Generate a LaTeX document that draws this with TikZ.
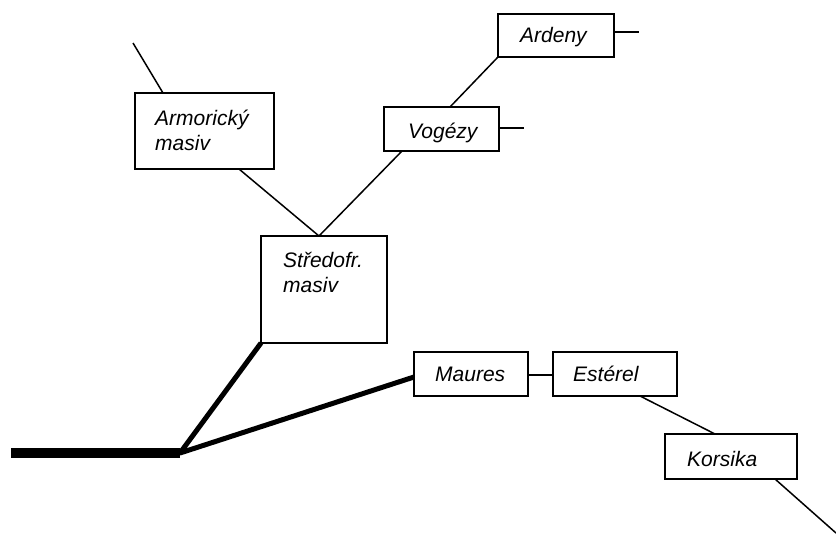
\documentclass[tikz,border=0pt]{standalone}
\usepackage{fontspec}
\setmainfont{Liberation Sans}
\begin{document}
\begin{tikzpicture}[x=1pt,y=-1pt,
  box/.style={draw=black,line width=1.5pt,fill=white,inner sep=0pt},
  lbl/.style={anchor=base west,inner sep=0pt,font=\fontsize{21}{25}\selectfont\itshape},
  thin/.style={line width=1.5pt},
  thick1/.style={line width=5pt},
  thick2/.style={line width=10pt}]
\useasboundingbox (0,0) rectangle (836,535);
% boxes
\node[box,minimum width=139pt,minimum height=76pt] (arm) at (204.5,131) {};
\node[box,minimum width=126pt,minimum height=107pt] (str) at (324,289.5) {};
\node[box,minimum width=115pt,minimum height=44pt] (vog) at (441.5,129) {};
\node[box,minimum width=116pt,minimum height=43pt] (ard) at (556,35.5) {};
\node[box,minimum width=114pt,minimum height=44pt] (mau) at (471,374) {};
\node[box,minimum width=124pt,minimum height=44pt] (est) at (615,374) {};
\node[box,minimum width=132pt,minimum height=45pt] (kor) at (731,456.5) {};
% texts
\node[lbl] (t1) at (155,125) {Armorický};
\node[lbl] (t2) at (155,150) {masiv};
\node[lbl] (t3) at (283,267) {Středofr.};
\node[lbl] (t4) at (283,292) {masiv};
\node[lbl] (t5) at (408,138) {Vogézy};
\node[lbl] (t6) at (520,43) {Ardeny};
\node[lbl] (t7) at (435,381) {Maures};
\node[lbl] (t8) at (573,381) {Estérel};
\node[lbl] (t9) at (687,466) {Korsika};
% connector points
\coordinate (armtopfree) at (133,43);
\coordinate (armtop) at (163,93);
\coordinate (armbot) at (239,169);
\coordinate (strtop) at (319,236);
\coordinate (vogbot) at (402,151);
\coordinate (vogtop) at (450,107);
\coordinate (ardbl) at (498,57);
\coordinate (ardr) at (614,32);
\coordinate (ardfree) at (639,32);
\coordinate (vogr) at (499,128);
\coordinate (vogfree) at (524,128);
\coordinate (hl) at (11,453);
\coordinate (hr) at (180,453);
\coordinate (strbl) at (261,343);
\coordinate (maul) at (414,377);
\coordinate (maur) at (528,375);
\coordinate (estl) at (553,375);
\coordinate (estbot) at (640,396);
\coordinate (kortop) at (715,434);
\coordinate (korbot) at (775,479);
\coordinate (korfree) at (836,533);
% connectors
\draw[thin] (armtopfree) -- (armtop);
\draw[thin] (armbot) -- (strtop);
\draw[thin] (vogbot) -- (strtop);
\draw[thin] (vogtop) -- (ardbl);
\draw[thin] (ardr) -- (ardfree);
\draw[thin] (vogr) -- (vogfree);
\draw[thin] (maur) -- (estl);
\draw[thin] (estbot) -- (kortop);
\draw[thin] (korbot) -- (korfree);
\draw[thick2] (hl) -- (hr);
\draw[thick1,line join=round] (strbl) -- (hr) -- (maul);
\end{tikzpicture}
\end{document}
